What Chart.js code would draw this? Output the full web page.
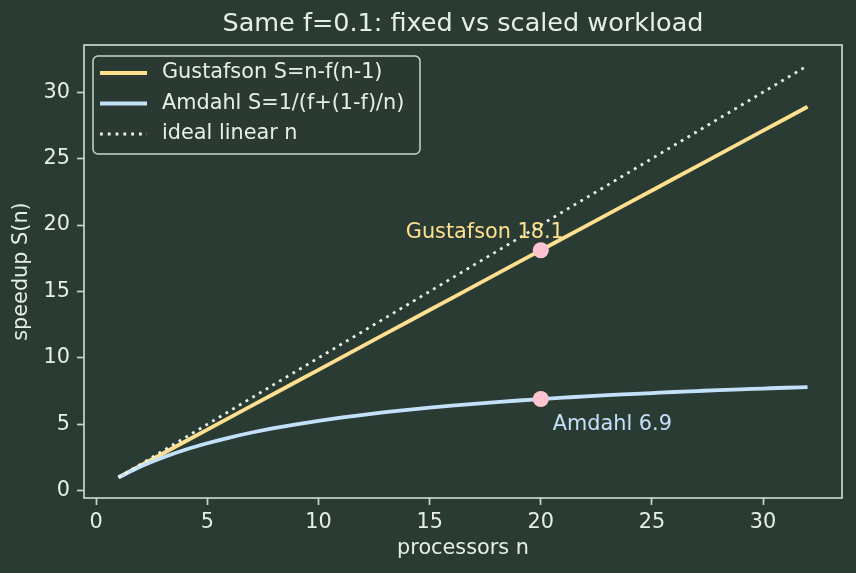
<!DOCTYPE html>
<html>
<head>
<meta charset="utf-8">
<script src="https://cdn.jsdelivr.net/npm/chart.js@4/dist/chart.umd.min.js"></script>
<style>
  html, body { margin: 0; padding: 0; background: #2a3b33; }
  canvas { display: block; }
</style>
</head>
<body>
<canvas id="myChart" width="856" height="573"></canvas>
<script>
// ---- data ----
var processors = [1, 2, 3, 4, 5, 6, 7, 8, 9, 10, 11, 12, 13, 14, 15, 16,
                  17, 18, 19, 20, 21, 22, 23, 24, 25, 26, 27, 28, 29, 30, 31, 32];
var gustafson = [1.0, 1.9, 2.8, 3.7, 4.6, 5.5, 6.4, 7.3, 8.2, 9.1, 10.0, 10.9,
                 11.8, 12.7, 13.6, 14.5, 15.4, 16.3, 17.2, 18.1, 19.0, 19.9, 20.8, 21.7,
                 22.6, 23.5, 24.4, 25.3, 26.2, 27.1, 28.0, 28.9];
var amdahl = [1.0, 1.82, 2.5, 3.08, 3.57, 4.0, 4.38, 4.71, 5.0, 5.26, 5.5, 5.71,
              5.91, 6.09, 6.25, 6.4, 6.54, 6.67, 6.79, 6.9, 7.0, 7.1, 7.19, 7.27,
              7.35, 7.43, 7.5, 7.57, 7.63, 7.69, 7.75, 7.8];
var ideal = [1, 2, 3, 4, 5, 6, 7, 8, 9, 10, 11, 12, 13, 14, 15, 16,
             17, 18, 19, 20, 21, 22, 23, 24, 25, 26, 27, 28, 29, 30, 31, 32];
var markerN = [20, 20];
var markerS = [18.1, 6.9];
var markerNames = ['Gustafson', 'Amdahl'];
var xTicks = [0, 5, 10, 15, 20, 25, 30];
var yTicks = [0, 5, 10, 15, 20, 25, 30];
var legendLabels = ['Gustafson S=n-f(n-1)', 'Amdahl S=1/(f+(1-f)/n)', 'ideal linear n'];

// colours
var BG = '#2a3b33';
var FG = '#e6efe6';
var FRAME = '#c6d6ca';
var YELLOW = '#ffe08f';
var BLUE = '#c4e1fb';
var DOTS = '#eef4ec';
var PINK = '#ffc4cf';
var FONT = '"DejaVu Sans", sans-serif';

function pairs(xs, ys) {
  var out = [];
  for (var i = 0; i < xs.length; i++) out.push({ x: xs[i], y: ys[i] });
  return out;
}

// title, frame, axis labels, annotations, legend
var decorations = {
  id: 'decorations',
  beforeDraw: function(chart) {
    var c = chart.ctx;
    c.save();
    c.fillStyle = BG;
    c.fillRect(0, 0, chart.width, chart.height);
    c.restore();
  },
  afterDatasetsDraw: function(chart) {
    var c = chart.ctx;
    var a = chart.chartArea;
    var xs = chart.scales.x, ys = chart.scales.y;
    c.save();
    // frame
    c.strokeStyle = FRAME;
    c.lineWidth = 1.7;
    c.strokeRect(a.left, a.top, a.right - a.left, a.bottom - a.top);

    // title
    c.fillStyle = FG;
    c.textAlign = 'center';
    c.textBaseline = 'middle';
    c.font = '25.5px ' + FONT;
    c.fillText('Same f=0.1: fixed vs scaled workload', (a.left + a.right) / 2, 24);

    // axis labels
    c.font = '20.8px ' + FONT;
    c.fillText('processors n', (a.left + a.right) / 2, 549);
    c.save();
    c.translate(22, (a.top + a.bottom) / 2);
    c.rotate(-Math.PI / 2);
    c.fillText('speedup S(n)', 0, 0);
    c.restore();

    // annotations next to the markers
    var px = xs.getPixelForValue(markerN[0]);
    var py = ys.getPixelForValue(markerS[0]);
    c.fillStyle = YELLOW;
    c.textAlign = 'center';
    c.fillText(markerNames[0] + ' ' + markerS[0].toFixed(1), px - 56, py - 18);
    px = xs.getPixelForValue(markerN[1]);
    py = ys.getPixelForValue(markerS[1]);
    c.fillStyle = BLUE;
    c.textAlign = 'left';
    c.fillText(markerNames[1] + ' ' + markerS[1].toFixed(1), px + 12, py + 26);

    // legend
    var lx = 93, ly = 56, lw = 327, lh = 98, r = 5;
    c.beginPath();
    c.moveTo(lx + r, ly);
    c.arcTo(lx + lw, ly, lx + lw, ly + lh, r);
    c.arcTo(lx + lw, ly + lh, lx, ly + lh, r);
    c.arcTo(lx, ly + lh, lx, ly, r);
    c.arcTo(lx, ly, lx + lw, ly, r);
    c.closePath();
    c.fillStyle = 'rgba(42,59,51,0.85)';
    c.fill();
    c.strokeStyle = FRAME;
    c.lineWidth = 1.5;
    c.stroke();

    var ds = chart.data.datasets;
    for (var i = 0; i < legendLabels.length; i++) {
      var rowY = 73 + i * 30.5;
      c.beginPath();
      c.strokeStyle = ds[i].borderColor;
      c.lineWidth = ds[i].borderWidth;
      c.setLineDash(ds[i].borderDash || []);
      c.moveTo(100, rowY);
      c.lineTo(147, rowY);
      c.stroke();
      c.setLineDash([]);
      c.fillStyle = FG;
      c.textAlign = 'left';
      c.fillText(legendLabels[i], 162, rowY);
    }
    c.restore();
  }
};

var ctx = document.getElementById('myChart').getContext('2d');
var chart = new Chart(ctx, {
  type: 'line',
  data: {
    datasets: [{
      label: legendLabels[0],
      data: pairs(processors, gustafson),
      borderColor: YELLOW,
      borderWidth: 3.8,
      pointRadius: 0,
      order: 3
    }, {
      label: legendLabels[1],
      data: pairs(processors, amdahl),
      borderColor: BLUE,
      borderWidth: 3.8,
      pointRadius: 0,
      cubicInterpolationMode: 'monotone',
      order: 2
    }, {
      label: legendLabels[2],
      data: pairs(processors, ideal),
      borderColor: DOTS,
      borderWidth: 2.8,
      borderDash: [2.8, 5],
      borderCapStyle: 'butt',
      pointRadius: 0,
      order: 1
    }, {
      label: 'markers',
      data: pairs(markerN, markerS),
      showLine: false,
      pointRadius: 8,
      pointBackgroundColor: PINK,
      pointBorderColor: PINK,
      pointBorderWidth: 0,
      order: 0
    }]
  },
  options: {
    responsive: false,
    devicePixelRatio: 1,
    animation: false,
    layout: { padding: { left: 0, top: 45, right: 14, bottom: 0 } },
    plugins: {
      legend: { display: false },
      title: { display: false },
      tooltip: { enabled: false }
    },
    scales: {
      x: {
        type: 'linear',
        min: -0.55,
        max: 33.55,
        afterBuildTicks: function(scale) {
          scale.ticks = xTicks.map(function(v) { return { value: v }; });
        },
        afterFit: function(scale) { scale.height = 75; },
        grid: { drawOnChartArea: false, drawTicks: true, tickLength: 7, tickWidth: 1.7, tickColor: FRAME },
        border: { display: false },
        ticks: { color: FG, padding: 5, maxRotation: 0, font: { family: FONT, size: 20.8 } }
      },
      y: {
        type: 'linear',
        min: -0.55,
        max: 33.55,
        afterBuildTicks: function(scale) {
          scale.ticks = yTicks.map(function(v) { return { value: v }; });
        },
        afterFit: function(scale) { scale.width = 84; },
        grid: { drawOnChartArea: false, drawTicks: true, tickLength: 7, tickWidth: 1.7, tickColor: FRAME },
        border: { display: false },
        ticks: { color: FG, padding: 7, font: { family: FONT, size: 20.8 } }
      }
    }
  },
  plugins: [decorations]
});
</script>
</body>
</html>
